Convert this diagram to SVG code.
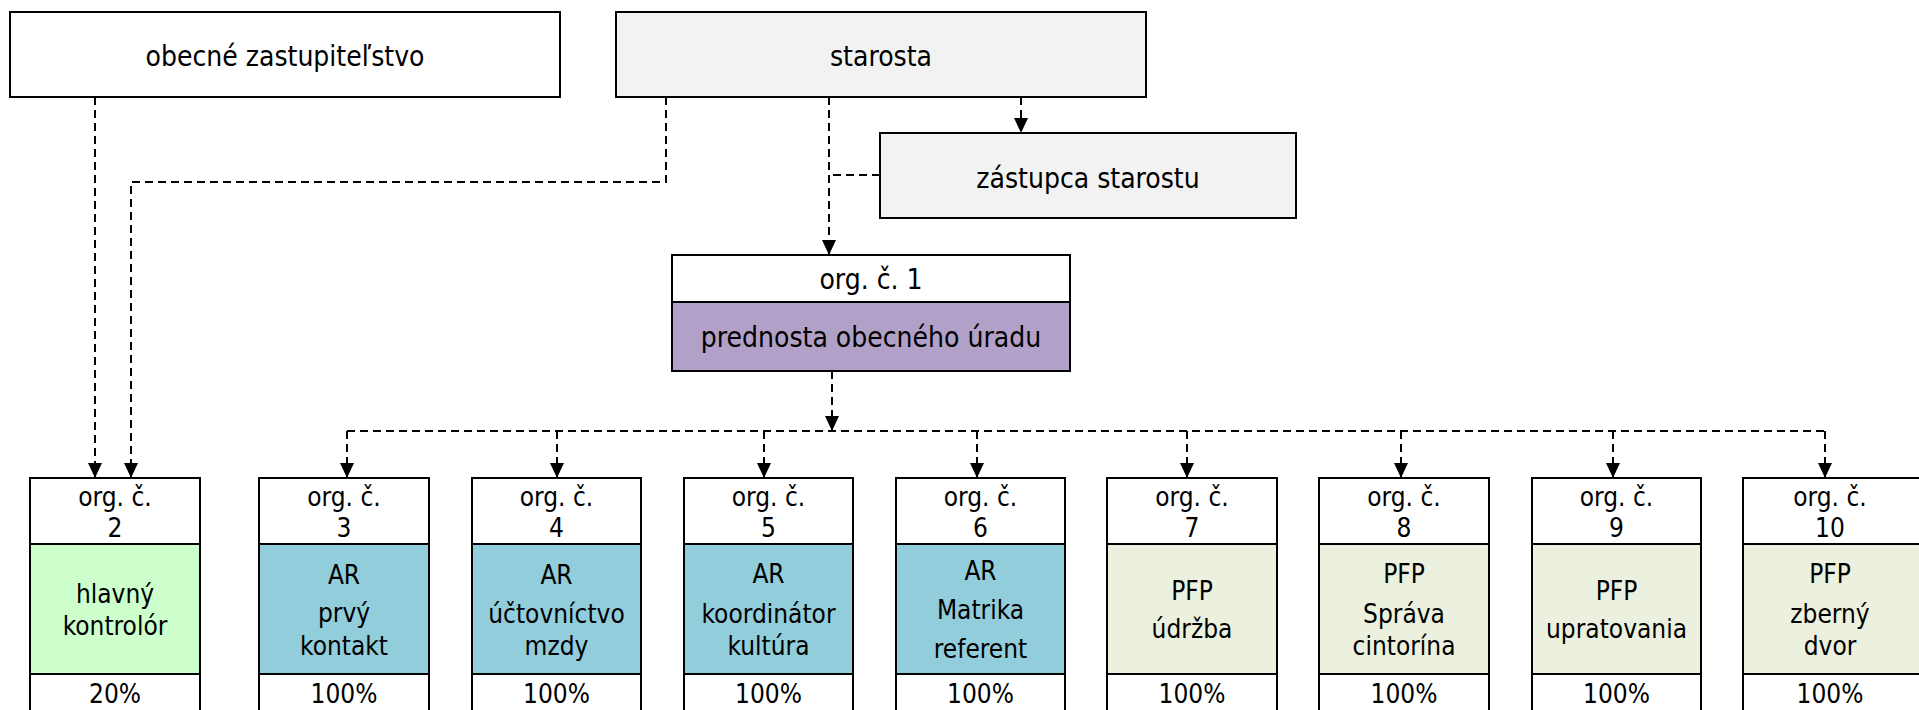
<svg xmlns="http://www.w3.org/2000/svg" width="1919" height="710" viewBox="0 0 1919 710">
<defs>
<style>
.b{stroke:#000;stroke-width:2}
.w{fill:#fff}
.g{fill:#f2f2f2}
.p{fill:#b1a0c7}
.gr{fill:#ccffcc}
.bl{fill:#92cddc}
.pf{fill:#ebf1de}
text{font-family:"DejaVu Sans Condensed","DejaVu Sans",sans-serif;font-stretch:condensed;text-anchor:middle;fill:#000}
.t28{font-size:28px}
.t26{font-size:26px}
.c{fill:none;stroke:#000;stroke-width:2;stroke-dasharray:8 5}
</style>
<marker id="arr" markerUnits="userSpaceOnUse" markerWidth="15" markerHeight="14" refX="15" refY="7" orient="auto">
<path d="M0,0 L15,7 L0,14 z" fill="#000"/>
</marker>
</defs>
<rect width="1919" height="710" fill="#fff"/>
<g id="connectors">
<path class="c" d="M95,97 V478" marker-end="url(#arr)"/>
<path class="c" d="M666,97 V182 H131 V478" marker-end="url(#arr)"/>
<path class="c" d="M829,97 V255" marker-end="url(#arr)"/>
<path class="c" d="M1021,97 V133" marker-end="url(#arr)"/>
<path class="c" d="M880,175 H829"/>
<path class="c" d="M832,371 V431" marker-end="url(#arr)"/>
<path class="c" d="M347,431 H1825"/>
<path class="c" d="M347,431 V478" marker-end="url(#arr)"/>
<path class="c" d="M557,431 V478" marker-end="url(#arr)"/>
<path class="c" d="M764,431 V478" marker-end="url(#arr)"/>
<path class="c" d="M977,431 V478" marker-end="url(#arr)"/>
<path class="c" d="M1187,431 V478" marker-end="url(#arr)"/>
<path class="c" d="M1401,431 V478" marker-end="url(#arr)"/>
<path class="c" d="M1613,431 V478" marker-end="url(#arr)"/>
<path class="c" d="M1825,431 V478" marker-end="url(#arr)"/>
</g>
<g id="zastupitelstvo">
<rect class="b w" x="10" y="12" width="550" height="85"/>
<text class="t28" x="285" y="66">obecné zastupiteľstvo</text>
</g>
<g id="starosta">
<rect class="b g" x="616" y="12" width="530" height="85"/>
<text class="t28" x="881" y="66">starosta</text>
</g>
<g id="zastupca">
<rect class="b g" x="880" y="133" width="416" height="85"/>
<text class="t28" x="1088" y="188">zástupca starostu</text>
</g>
<g id="org1">
<rect class="b w" x="672" y="255" width="398" height="47"/>
<rect class="b p" x="672" y="302" width="398" height="69"/>
<text class="t28" x="871" y="289">org. č. 1</text>
<text class="t28" x="871" y="347">prednosta obecného úradu</text>
</g>
<g id="org2">
<rect class="b w" x="30" y="478" width="170" height="66"/>
<rect class="b gr" x="30" y="544" width="170" height="130"/>
<rect class="b w" x="30" y="674" width="170" height="50"/>
<text class="t26" x="115" y="506">org. č.</text>
<text class="t26" x="115" y="537">2</text>
<text class="t26" x="115" y="603">hlavný</text>
<text class="t26" x="115" y="635">kontrolór</text>
<text class="t26" x="115" y="703">20%</text>
</g>
<g id="org3">
<rect class="b w" x="259" y="478" width="170" height="66"/>
<rect class="b bl" x="259" y="544" width="170" height="130"/>
<rect class="b w" x="259" y="674" width="170" height="50"/>
<text class="t26" x="344" y="506">org. č.</text>
<text class="t26" x="344" y="537">3</text>
<text class="t26" x="344" y="584">AR</text>
<text class="t26" x="344" y="622">prvý</text>
<text class="t26" x="344" y="655">kontakt</text>
<text class="t26" x="344" y="703">100%</text>
</g>
<g id="org4">
<rect class="b w" x="472" y="478" width="169" height="66"/>
<rect class="b bl" x="472" y="544" width="169" height="130"/>
<rect class="b w" x="472" y="674" width="169" height="50"/>
<text class="t26" x="556.5" y="506">org. č.</text>
<text class="t26" x="556.5" y="537">4</text>
<text class="t26" x="556.5" y="584">AR</text>
<text class="t26" x="556.5" y="623">účtovníctvo</text>
<text class="t26" x="556.5" y="655">mzdy</text>
<text class="t26" x="556.5" y="703">100%</text>
</g>
<g id="org5">
<rect class="b w" x="684" y="478" width="169" height="66"/>
<rect class="b bl" x="684" y="544" width="169" height="130"/>
<rect class="b w" x="684" y="674" width="169" height="50"/>
<text class="t26" x="768.5" y="506">org. č.</text>
<text class="t26" x="768.5" y="537">5</text>
<text class="t26" x="768.5" y="583">AR</text>
<text class="t26" x="768.5" y="623">koordinátor</text>
<text class="t26" x="768.5" y="655">kultúra</text>
<text class="t26" x="768.5" y="703">100%</text>
</g>
<g id="org6">
<rect class="b w" x="896" y="478" width="169" height="66"/>
<rect class="b bl" x="896" y="544" width="169" height="130"/>
<rect class="b w" x="896" y="674" width="169" height="50"/>
<text class="t26" x="980.5" y="506">org. č.</text>
<text class="t26" x="980.5" y="537">6</text>
<text class="t26" x="980.5" y="580">AR</text>
<text class="t26" x="980.5" y="619">Matrika</text>
<text class="t26" x="980.5" y="658">referent</text>
<text class="t26" x="980.5" y="703">100%</text>
</g>
<g id="org7">
<rect class="b w" x="1107" y="478" width="170" height="66"/>
<rect class="b pf" x="1107" y="544" width="170" height="130"/>
<rect class="b w" x="1107" y="674" width="170" height="50"/>
<text class="t26" x="1192" y="506">org. č.</text>
<text class="t26" x="1192" y="537">7</text>
<text class="t26" x="1192" y="600">PFP</text>
<text class="t26" x="1192" y="638">údržba</text>
<text class="t26" x="1192" y="703">100%</text>
</g>
<g id="org8">
<rect class="b w" x="1319" y="478" width="170" height="66"/>
<rect class="b pf" x="1319" y="544" width="170" height="130"/>
<rect class="b w" x="1319" y="674" width="170" height="50"/>
<text class="t26" x="1404" y="506">org. č.</text>
<text class="t26" x="1404" y="537">8</text>
<text class="t26" x="1404" y="583">PFP</text>
<text class="t26" x="1404" y="623">Správa</text>
<text class="t26" x="1404" y="655">cintorína</text>
<text class="t26" x="1404" y="703">100%</text>
</g>
<g id="org9">
<rect class="b w" x="1532" y="478" width="169" height="66"/>
<rect class="b pf" x="1532" y="544" width="169" height="130"/>
<rect class="b w" x="1532" y="674" width="169" height="50"/>
<text class="t26" x="1616.5" y="506">org. č.</text>
<text class="t26" x="1616.5" y="537">9</text>
<text class="t26" x="1616.5" y="600">PFP</text>
<text class="t26" x="1616.5" y="638">upratovania</text>
<text class="t26" x="1616.5" y="703">100%</text>
</g>
<g id="org10">
<rect class="b w" x="1743" y="478" width="185" height="66"/>
<rect class="b pf" x="1743" y="544" width="185" height="130"/>
<rect class="b w" x="1743" y="674" width="185" height="50"/>
<text class="t26" x="1830" y="506">org. č.</text>
<text class="t26" x="1830" y="537">10</text>
<text class="t26" x="1830" y="583">PFP</text>
<text class="t26" x="1830" y="623">zberný</text>
<text class="t26" x="1830" y="655">dvor</text>
<text class="t26" x="1830" y="703">100%</text>
</g>
</svg>
